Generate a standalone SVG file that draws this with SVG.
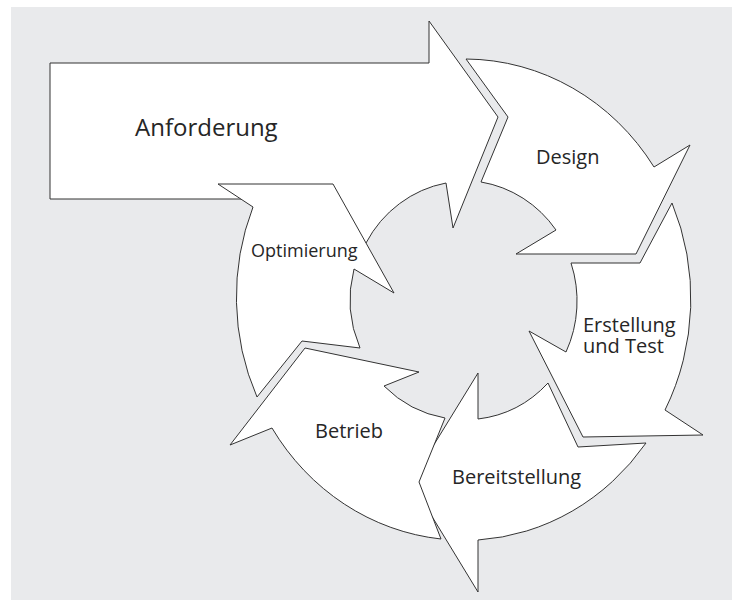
<svg xmlns="http://www.w3.org/2000/svg" width="732" height="601" viewBox="0 0 732 601">
  <style>
    .arrow { fill: #ffffff; stroke: #333333; stroke-width: 1; stroke-linejoin: miter; }
    .label { font-family: "Open Sans", "Noto Sans", "Liberation Sans", sans-serif; fill: #262626; }
  </style>
  <!-- page -->
  <rect x="0" y="0" width="732" height="601" fill="#ffffff"/>
  <rect x="11" y="7" width="721" height="593" fill="#e9eaec"/>

  <!-- input arrow -->
  <g id="anforderung">
    <path class="arrow" d="M50,63 L429,63 L429,21 L498,117 L453,228 L446,183 A115,119 0 0 0 366,243 L300,199 L50,199 Z"/>
    <text class="label" x="135" y="136" font-size="24">Anforderung</text>
  </g>

  <!-- cycle arrows, clockwise -->
  <g id="design">
    <path class="arrow" d="M466,59 A227,240 0 0 1 654,167 L690,145 L636,254 L516,254 L556,230 A115,119 0 0 0 481,182 L508,117 Z"/>
    <text class="label" x="536" y="164" font-size="20">Design</text>
  </g>

  <g id="erstellung">
    <path class="arrow" d="M672,203 A227,240 0 0 1 665,410 L703,435 L583,437 L529,331 L566,352 A115,119 0 0 0 571,263 L640,263 Z"/>
    <text class="label" x="583" y="332" font-size="20">Erstellung</text>
    <text class="label" x="583" y="353" font-size="20">und Test</text>
  </g>

  <g id="bereitstellung">
    <path class="arrow" d="M646,443 A227,240 0 0 1 478,540 L478,592 L411,482 L478,373 L478,419 A115,119 0 0 0 548,383 L578,447 Z"/>
    <text class="label" x="452" y="484" font-size="20">Bereitstellung</text>
  </g>

  <g id="betrieb">
    <path class="arrow" d="M441,539 A227,240 0 0 1 272,428 L230,445 L305,348 L419,372 L384,386 A115,119 0 0 0 445,418 L419,482 Z"/>
    <text class="label" x="315" y="438" font-size="20">Betrieb</text>
  </g>

  <g id="optimierung">
    <path class="arrow" d="M257,397 A227,240 0 0 1 253,207 L218,184 L333,184 L394,293 L354,269 A115,119 0 0 0 360,348 L302,341 Z"/>
    <text class="label" x="251" y="257" font-size="18">Optimierung</text>
  </g>

  <!-- the arrows abut each other; no separate connector lines -->
  <g id="connectors"/>
</svg>
